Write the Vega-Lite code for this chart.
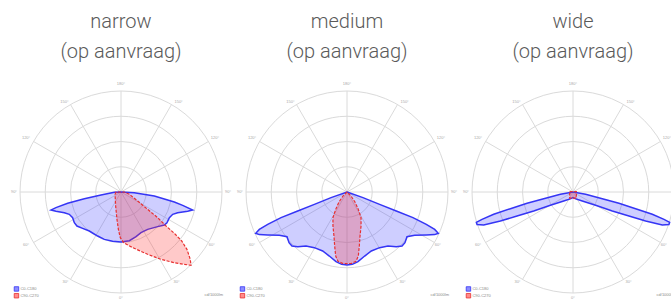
{
  "$schema": "https://vega.github.io/schema/vega-lite/v6.json",
  "padding": {"left": 10, "top": 11, "right": 0, "bottom": 0},
  "background": "white",
  "bounds": "flush",
  "config": {
    "view": {"stroke": null},
    "concat": {"spacing": 24},
    "title": {"font": "Roboto", "fontSize": 20, "fontWeight": 300, "color": "#5a5a5a", "lineHeight": 30, "offset": 20, "anchor": "middle"},
    "text": {"font": "Liberation Sans"}
  },
  "datasets": {
    "circles": [{"x": 0, "y": 0, "r": 0.25}, {"x": 0, "y": 0, "r": 0.5}, {"x": 0, "y": 0, "r": 0.75}, {"x": 0, "y": 0, "r": 1}],
    "spokes": [
      {"x": 0, "y": 1, "x2": 0, "y2": -1},
      {"x": -1, "y": 0, "x2": 1, "y2": 0},
      {"x": 0.5, "y": 0.866, "x2": -0.5, "y2": -0.866},
      {"x": -0.5, "y": 0.866, "x2": 0.5, "y2": -0.866},
      {"x": 0.866, "y": 0.5, "x2": -0.866, "y2": -0.5},
      {"x": -0.866, "y": 0.5, "x2": 0.866, "y2": -0.5}
    ],
    "degrees": [
      {"t": "180°", "x": 0, "y": 1.07},
      {"t": "150°", "x": -0.56, "y": 0.89},
      {"t": "150°", "x": 0.57, "y": 0.89},
      {"t": "120°", "x": -0.94, "y": 0.53},
      {"t": "120°", "x": 0.93, "y": 0.53},
      {"t": "90°", "x": -1.06, "y": 0},
      {"t": "90°", "x": 1.06, "y": 0},
      {"t": "60°", "x": -0.94, "y": -0.52},
      {"t": "60°", "x": 0.9, "y": -0.52},
      {"t": "30°", "x": -0.55, "y": -0.89},
      {"t": "30°", "x": 0.55, "y": -0.89},
      {"t": "0°", "x": 0, "y": -1.05}
    ],
    "legend": [
      {"s": "C0-C180", "x": -1.035, "y": -0.96},
      {"s": "C90-C270", "x": -1.035, "y": -1.027}
    ],
    "unit": [{"t": "cd/1000lm", "x": 1.01, "y": -1.02}],
    "curves": [
      {"p": "narrow", "s": "C0-C180", "i": 0, "x": 0, "y": 0},
      {"p": "narrow", "s": "C0-C180", "i": 1, "x": 0.132, "y": -0.007},
      {"p": "narrow", "s": "C0-C180", "i": 2, "x": 0.33, "y": -0.04},
      {"p": "narrow", "s": "C0-C180", "i": 3, "x": 0.528, "y": -0.099},
      {"p": "narrow", "s": "C0-C180", "i": 4, "x": 0.611, "y": -0.132},
      {"p": "narrow", "s": "C0-C180", "i": 5, "x": 0.71, "y": -0.178},
      {"p": "narrow", "s": "C0-C180", "i": 6, "x": 0.66, "y": -0.191},
      {"p": "narrow", "s": "C0-C180", "i": 7, "x": 0.561, "y": -0.205},
      {"p": "narrow", "s": "C0-C180", "i": 8, "x": 0.512, "y": -0.221},
      {"p": "narrow", "s": "C0-C180", "i": 9, "x": 0.479, "y": -0.254},
      {"p": "narrow", "s": "C0-C180", "i": 10, "x": 0.455, "y": -0.304},
      {"p": "narrow", "s": "C0-C180", "i": 11, "x": 0.429, "y": -0.327},
      {"p": "narrow", "s": "C0-C180", "i": 12, "x": 0.363, "y": -0.343},
      {"p": "narrow", "s": "C0-C180", "i": 13, "x": 0.264, "y": -0.37},
      {"p": "narrow", "s": "C0-C180", "i": 14, "x": 0.198, "y": -0.403},
      {"p": "narrow", "s": "C0-C180", "i": 15, "x": 0.149, "y": -0.442},
      {"p": "narrow", "s": "C0-C180", "i": 16, "x": 0.083, "y": -0.482},
      {"p": "narrow", "s": "C0-C180", "i": 17, "x": 0, "y": -0.495},
      {"p": "narrow", "s": "C0-C180", "i": 18, "x": -0.083, "y": -0.488},
      {"p": "narrow", "s": "C0-C180", "i": 19, "x": -0.165, "y": -0.469},
      {"p": "narrow", "s": "C0-C180", "i": 20, "x": -0.231, "y": -0.436},
      {"p": "narrow", "s": "C0-C180", "i": 21, "x": -0.314, "y": -0.386},
      {"p": "narrow", "s": "C0-C180", "i": 22, "x": -0.38, "y": -0.36},
      {"p": "narrow", "s": "C0-C180", "i": 23, "x": -0.436, "y": -0.337},
      {"p": "narrow", "s": "C0-C180", "i": 24, "x": -0.462, "y": -0.304},
      {"p": "narrow", "s": "C0-C180", "i": 25, "x": -0.479, "y": -0.254},
      {"p": "narrow", "s": "C0-C180", "i": 26, "x": -0.512, "y": -0.221},
      {"p": "narrow", "s": "C0-C180", "i": 27, "x": -0.561, "y": -0.205},
      {"p": "narrow", "s": "C0-C180", "i": 28, "x": -0.644, "y": -0.191},
      {"p": "narrow", "s": "C0-C180", "i": 29, "x": -0.693, "y": -0.178},
      {"p": "narrow", "s": "C0-C180", "i": 30, "x": -0.644, "y": -0.155},
      {"p": "narrow", "s": "C0-C180", "i": 31, "x": -0.528, "y": -0.112},
      {"p": "narrow", "s": "C0-C180", "i": 32, "x": -0.363, "y": -0.066},
      {"p": "narrow", "s": "C0-C180", "i": 33, "x": -0.198, "y": -0.03},
      {"p": "narrow", "s": "C0-C180", "i": 34, "x": -0.066, "y": -0.003},
      {"p": "narrow", "s": "C90-C270", "i": 0, "x": -0.05, "y": 0},
      {"p": "narrow", "s": "C90-C270", "i": 1, "x": -0.059, "y": -0.023},
      {"p": "narrow", "s": "C90-C270", "i": 2, "x": -0.053, "y": -0.139},
      {"p": "narrow", "s": "C90-C270", "i": 3, "x": -0.04, "y": -0.271},
      {"p": "narrow", "s": "C90-C270", "i": 4, "x": -0.026, "y": -0.37},
      {"p": "narrow", "s": "C90-C270", "i": 5, "x": -0.007, "y": -0.452},
      {"p": "narrow", "s": "C90-C270", "i": 6, "x": 0.026, "y": -0.502},
      {"p": "narrow", "s": "C90-C270", "i": 7, "x": 0.116, "y": -0.551},
      {"p": "narrow", "s": "C90-C270", "i": 8, "x": 0.264, "y": -0.617},
      {"p": "narrow", "s": "C90-C270", "i": 9, "x": 0.396, "y": -0.667},
      {"p": "narrow", "s": "C90-C270", "i": 10, "x": 0.528, "y": -0.7},
      {"p": "narrow", "s": "C90-C270", "i": 11, "x": 0.627, "y": -0.716},
      {"p": "narrow", "s": "C90-C270", "i": 12, "x": 0.693, "y": -0.726},
      {"p": "narrow", "s": "C90-C270", "i": 13, "x": 0.686, "y": -0.667},
      {"p": "narrow", "s": "C90-C270", "i": 14, "x": 0.653, "y": -0.568},
      {"p": "narrow", "s": "C90-C270", "i": 15, "x": 0.601, "y": -0.485},
      {"p": "narrow", "s": "C90-C270", "i": 16, "x": 0.528, "y": -0.409},
      {"p": "narrow", "s": "C90-C270", "i": 17, "x": 0.446, "y": -0.337},
      {"p": "narrow", "s": "C90-C270", "i": 18, "x": 0.363, "y": -0.254},
      {"p": "narrow", "s": "C90-C270", "i": 19, "x": 0.264, "y": -0.172},
      {"p": "narrow", "s": "C90-C270", "i": 20, "x": 0.165, "y": -0.089},
      {"p": "narrow", "s": "C90-C270", "i": 21, "x": 0.083, "y": -0.023},
      {"p": "narrow", "s": "C90-C270", "i": 22, "x": 0.033, "y": 0},
      {"p": "medium", "s": "C0-C180", "i": 0, "x": 0, "y": 0},
      {"p": "medium", "s": "C0-C180", "i": 1, "x": 0.158, "y": -0.056},
      {"p": "medium", "s": "C0-C180", "i": 2, "x": 0.323, "y": -0.122},
      {"p": "medium", "s": "C0-C180", "i": 3, "x": 0.488, "y": -0.188},
      {"p": "medium", "s": "C0-C180", "i": 4, "x": 0.653, "y": -0.254},
      {"p": "medium", "s": "C0-C180", "i": 5, "x": 0.785, "y": -0.32},
      {"p": "medium", "s": "C0-C180", "i": 6, "x": 0.868, "y": -0.37},
      {"p": "medium", "s": "C0-C180", "i": 7, "x": 0.904, "y": -0.409},
      {"p": "medium", "s": "C0-C180", "i": 8, "x": 0.868, "y": -0.422},
      {"p": "medium", "s": "C0-C180", "i": 9, "x": 0.785, "y": -0.426},
      {"p": "medium", "s": "C0-C180", "i": 10, "x": 0.67, "y": -0.429},
      {"p": "medium", "s": "C0-C180", "i": 11, "x": 0.594, "y": -0.442},
      {"p": "medium", "s": "C0-C180", "i": 12, "x": 0.574, "y": -0.502},
      {"p": "medium", "s": "C0-C180", "i": 13, "x": 0.545, "y": -0.535},
      {"p": "medium", "s": "C0-C180", "i": 14, "x": 0.488, "y": -0.541},
      {"p": "medium", "s": "C0-C180", "i": 15, "x": 0.406, "y": -0.535},
      {"p": "medium", "s": "C0-C180", "i": 16, "x": 0.323, "y": -0.551},
      {"p": "medium", "s": "C0-C180", "i": 17, "x": 0.241, "y": -0.584},
      {"p": "medium", "s": "C0-C180", "i": 18, "x": 0.175, "y": -0.634},
      {"p": "medium", "s": "C0-C180", "i": 19, "x": 0.109, "y": -0.69},
      {"p": "medium", "s": "C0-C180", "i": 20, "x": 0.053, "y": -0.716},
      {"p": "medium", "s": "C0-C180", "i": 21, "x": 0, "y": -0.723},
      {"p": "medium", "s": "C0-C180", "i": 22, "x": -0.053, "y": -0.716},
      {"p": "medium", "s": "C0-C180", "i": 23, "x": -0.109, "y": -0.69},
      {"p": "medium", "s": "C0-C180", "i": 24, "x": -0.175, "y": -0.634},
      {"p": "medium", "s": "C0-C180", "i": 25, "x": -0.241, "y": -0.584},
      {"p": "medium", "s": "C0-C180", "i": 26, "x": -0.323, "y": -0.551},
      {"p": "medium", "s": "C0-C180", "i": 27, "x": -0.406, "y": -0.535},
      {"p": "medium", "s": "C0-C180", "i": 28, "x": -0.488, "y": -0.541},
      {"p": "medium", "s": "C0-C180", "i": 29, "x": -0.545, "y": -0.535},
      {"p": "medium", "s": "C0-C180", "i": 30, "x": -0.574, "y": -0.502},
      {"p": "medium", "s": "C0-C180", "i": 31, "x": -0.594, "y": -0.442},
      {"p": "medium", "s": "C0-C180", "i": 32, "x": -0.67, "y": -0.429},
      {"p": "medium", "s": "C0-C180", "i": 33, "x": -0.785, "y": -0.426},
      {"p": "medium", "s": "C0-C180", "i": 34, "x": -0.868, "y": -0.422},
      {"p": "medium", "s": "C0-C180", "i": 35, "x": -0.904, "y": -0.409},
      {"p": "medium", "s": "C0-C180", "i": 36, "x": -0.868, "y": -0.37},
      {"p": "medium", "s": "C0-C180", "i": 37, "x": -0.785, "y": -0.32},
      {"p": "medium", "s": "C0-C180", "i": 38, "x": -0.653, "y": -0.254},
      {"p": "medium", "s": "C0-C180", "i": 39, "x": -0.488, "y": -0.188},
      {"p": "medium", "s": "C0-C180", "i": 40, "x": -0.323, "y": -0.122},
      {"p": "medium", "s": "C0-C180", "i": 41, "x": -0.158, "y": -0.056},
      {"p": "medium", "s": "C90-C270", "i": 0, "x": 0, "y": 0},
      {"p": "medium", "s": "C90-C270", "i": 1, "x": -0.04, "y": -0.04},
      {"p": "medium", "s": "C90-C270", "i": 2, "x": -0.079, "y": -0.099},
      {"p": "medium", "s": "C90-C270", "i": 3, "x": -0.112, "y": -0.172},
      {"p": "medium", "s": "C90-C270", "i": 4, "x": -0.139, "y": -0.254},
      {"p": "medium", "s": "C90-C270", "i": 5, "x": -0.139, "y": -0.337},
      {"p": "medium", "s": "C90-C270", "i": 6, "x": -0.129, "y": -0.436},
      {"p": "medium", "s": "C90-C270", "i": 7, "x": -0.122, "y": -0.535},
      {"p": "medium", "s": "C90-C270", "i": 8, "x": -0.112, "y": -0.634},
      {"p": "medium", "s": "C90-C270", "i": 9, "x": -0.089, "y": -0.686},
      {"p": "medium", "s": "C90-C270", "i": 10, "x": -0.046, "y": -0.706},
      {"p": "medium", "s": "C90-C270", "i": 11, "x": 0, "y": -0.71},
      {"p": "medium", "s": "C90-C270", "i": 12, "x": 0.046, "y": -0.706},
      {"p": "medium", "s": "C90-C270", "i": 13, "x": 0.089, "y": -0.686},
      {"p": "medium", "s": "C90-C270", "i": 14, "x": 0.112, "y": -0.634},
      {"p": "medium", "s": "C90-C270", "i": 15, "x": 0.122, "y": -0.535},
      {"p": "medium", "s": "C90-C270", "i": 16, "x": 0.129, "y": -0.436},
      {"p": "medium", "s": "C90-C270", "i": 17, "x": 0.139, "y": -0.337},
      {"p": "medium", "s": "C90-C270", "i": 18, "x": 0.139, "y": -0.254},
      {"p": "medium", "s": "C90-C270", "i": 19, "x": 0.112, "y": -0.172},
      {"p": "medium", "s": "C90-C270", "i": 20, "x": 0.079, "y": -0.099},
      {"p": "medium", "s": "C90-C270", "i": 21, "x": 0.04, "y": -0.04},
      {"p": "wide", "s": "C0-C180", "i": 0, "x": 0, "y": 0},
      {"p": "wide", "s": "C0-C180", "i": 1, "x": 0.125, "y": -0.023},
      {"p": "wide", "s": "C0-C180", "i": 2, "x": 0.29, "y": -0.066},
      {"p": "wide", "s": "C0-C180", "i": 3, "x": 0.455, "y": -0.112},
      {"p": "wide", "s": "C0-C180", "i": 4, "x": 0.62, "y": -0.165},
      {"p": "wide", "s": "C0-C180", "i": 5, "x": 0.785, "y": -0.221},
      {"p": "wide", "s": "C0-C180", "i": 6, "x": 0.901, "y": -0.271},
      {"p": "wide", "s": "C0-C180", "i": 7, "x": 0.957, "y": -0.3},
      {"p": "wide", "s": "C0-C180", "i": 8, "x": 0.95, "y": -0.323},
      {"p": "wide", "s": "C0-C180", "i": 9, "x": 0.884, "y": -0.327},
      {"p": "wide", "s": "C0-C180", "i": 10, "x": 0.719, "y": -0.287},
      {"p": "wide", "s": "C0-C180", "i": 11, "x": 0.554, "y": -0.238},
      {"p": "wide", "s": "C0-C180", "i": 12, "x": 0.389, "y": -0.188},
      {"p": "wide", "s": "C0-C180", "i": 13, "x": 0.224, "y": -0.132},
      {"p": "wide", "s": "C0-C180", "i": 14, "x": 0.092, "y": -0.089},
      {"p": "wide", "s": "C0-C180", "i": 15, "x": 0.02, "y": -0.066},
      {"p": "wide", "s": "C0-C180", "i": 16, "x": 0, "y": -0.056},
      {"p": "wide", "s": "C0-C180", "i": 17, "x": -0.02, "y": -0.066},
      {"p": "wide", "s": "C0-C180", "i": 18, "x": -0.092, "y": -0.089},
      {"p": "wide", "s": "C0-C180", "i": 19, "x": -0.224, "y": -0.132},
      {"p": "wide", "s": "C0-C180", "i": 20, "x": -0.389, "y": -0.188},
      {"p": "wide", "s": "C0-C180", "i": 21, "x": -0.554, "y": -0.238},
      {"p": "wide", "s": "C0-C180", "i": 22, "x": -0.719, "y": -0.287},
      {"p": "wide", "s": "C0-C180", "i": 23, "x": -0.884, "y": -0.327},
      {"p": "wide", "s": "C0-C180", "i": 24, "x": -0.95, "y": -0.323},
      {"p": "wide", "s": "C0-C180", "i": 25, "x": -0.957, "y": -0.3},
      {"p": "wide", "s": "C0-C180", "i": 26, "x": -0.901, "y": -0.271},
      {"p": "wide", "s": "C0-C180", "i": 27, "x": -0.785, "y": -0.221},
      {"p": "wide", "s": "C0-C180", "i": 28, "x": -0.62, "y": -0.165},
      {"p": "wide", "s": "C0-C180", "i": 29, "x": -0.455, "y": -0.112},
      {"p": "wide", "s": "C0-C180", "i": 30, "x": -0.29, "y": -0.066},
      {"p": "wide", "s": "C0-C180", "i": 31, "x": -0.125, "y": -0.023},
      {"p": "wide", "s": "C90-C270", "i": 0, "x": -0.033, "y": 0.005},
      {"p": "wide", "s": "C90-C270", "i": 1, "x": 0.033, "y": 0.005},
      {"p": "wide", "s": "C90-C270", "i": 2, "x": 0.033, "y": -0.06},
      {"p": "wide", "s": "C90-C270", "i": 3, "x": -0.033, "y": -0.06}
    ]
  },
  "hconcat": [
    {
      "width": 202, "height": 202,
      "title": {"text": ["narrow", "(op aanvraag)"]},
      "layer": [
        {"data": {"name": "circles"}, "mark": {"type": "point", "shape": "circle", "filled": false, "stroke": "#dadada", "strokeWidth": 1, "opacity": 1}, "encoding": {"x": {"field": "x", "type": "quantitative", "scale": {"domain": [-1, 1], "nice": false}, "axis": null}, "y": {"field": "y", "type": "quantitative", "scale": {"domain": [-1, 1], "nice": false}, "axis": null}, "size": {"field": "r", "type": "quantitative", "scale": {"type": "pow", "exponent": 2, "domain": [0, 1], "range": [0, 40804], "zero": true}, "legend": null}}},
        {"data": {"name": "spokes"}, "mark": {"type": "rule", "color": "#dadada", "strokeWidth": 1}, "encoding": {"x": {"field": "x", "type": "quantitative"}, "y": {"field": "y", "type": "quantitative"}, "x2": {"field": "x2"}, "y2": {"field": "y2"}}},
        {"data": {"name": "curves"}, "transform": [{"filter": "datum.p === 'narrow' && datum.s === 'C0-C180'"}], "mark": {"type": "line", "interpolate": "linear-closed", "stroke": "#3535f5", "strokeWidth": 1.5, "fill": "#3b3bff", "fillOpacity": 0.25}, "encoding": {"x": {"field": "x", "type": "quantitative"}, "y": {"field": "y", "type": "quantitative"}, "order": {"field": "i", "type": "quantitative"}}},
        {"data": {"name": "curves"}, "transform": [{"filter": "datum.p === 'narrow' && datum.s === 'C90-C270'"}], "mark": {"type": "line", "interpolate": "linear-closed", "stroke": "#e83030", "strokeWidth": 1.2, "strokeDash": [3, 1.5], "fill": "#ff3030", "fillOpacity": 0.26}, "encoding": {"x": {"field": "x", "type": "quantitative"}, "y": {"field": "y", "type": "quantitative"}, "order": {"field": "i", "type": "quantitative"}}},
        {"data": {"name": "degrees"}, "mark": {"type": "text", "fontSize": 4, "color": "#aaaaaa"}, "encoding": {"x": {"field": "x", "type": "quantitative"}, "y": {"field": "y", "type": "quantitative"}, "text": {"field": "t"}}},
        {"data": {"name": "legend"}, "mark": {"type": "point", "shape": "square", "filled": true, "size": 20, "opacity": 1, "strokeWidth": 0.8}, "encoding": {"x": {"field": "x", "type": "quantitative"}, "y": {"field": "y", "type": "quantitative"}, "fill": {"field": "s", "type": "nominal", "scale": {"domain": ["C0-C180", "C90-C270"], "range": ["#8c8cff", "#ff8c8c"]}, "legend": null}, "stroke": {"field": "s", "type": "nominal", "scale": {"domain": ["C0-C180", "C90-C270"], "range": ["#3535f5", "#e83030"]}, "legend": null}}},
        {"data": {"name": "legend"}, "mark": {"type": "text", "fontSize": 4, "color": "#888888", "align": "left", "dx": 4}, "encoding": {"x": {"field": "x", "type": "quantitative"}, "y": {"field": "y", "type": "quantitative"}, "text": {"field": "s"}}},
        {"data": {"name": "unit"}, "mark": {"type": "text", "fontSize": 4, "color": "#888888", "align": "right"}, "encoding": {"x": {"field": "x", "type": "quantitative"}, "y": {"field": "y", "type": "quantitative"}, "text": {"field": "t"}}}
      ]
    },
    {
      "width": 202, "height": 202,
      "title": {"text": ["medium", "(op aanvraag)"]},
      "layer": [
        {"data": {"name": "circles"}, "mark": {"type": "point", "shape": "circle", "filled": false, "stroke": "#dadada", "strokeWidth": 1, "opacity": 1}, "encoding": {"x": {"field": "x", "type": "quantitative", "scale": {"domain": [-1, 1], "nice": false}, "axis": null}, "y": {"field": "y", "type": "quantitative", "scale": {"domain": [-1, 1], "nice": false}, "axis": null}, "size": {"field": "r", "type": "quantitative", "scale": {"type": "pow", "exponent": 2, "domain": [0, 1], "range": [0, 40804], "zero": true}, "legend": null}}},
        {"data": {"name": "spokes"}, "mark": {"type": "rule", "color": "#dadada", "strokeWidth": 1}, "encoding": {"x": {"field": "x", "type": "quantitative"}, "y": {"field": "y", "type": "quantitative"}, "x2": {"field": "x2"}, "y2": {"field": "y2"}}},
        {"data": {"name": "curves"}, "transform": [{"filter": "datum.p === 'medium' && datum.s === 'C0-C180'"}], "mark": {"type": "line", "interpolate": "linear-closed", "stroke": "#3535f5", "strokeWidth": 1.5, "fill": "#3b3bff", "fillOpacity": 0.25}, "encoding": {"x": {"field": "x", "type": "quantitative"}, "y": {"field": "y", "type": "quantitative"}, "order": {"field": "i", "type": "quantitative"}}},
        {"data": {"name": "curves"}, "transform": [{"filter": "datum.p === 'medium' && datum.s === 'C90-C270'"}], "mark": {"type": "line", "interpolate": "linear-closed", "stroke": "#e83030", "strokeWidth": 1.2, "strokeDash": [3, 1.5], "fill": "#ff3030", "fillOpacity": 0.26}, "encoding": {"x": {"field": "x", "type": "quantitative"}, "y": {"field": "y", "type": "quantitative"}, "order": {"field": "i", "type": "quantitative"}}},
        {"data": {"name": "degrees"}, "mark": {"type": "text", "fontSize": 4, "color": "#aaaaaa"}, "encoding": {"x": {"field": "x", "type": "quantitative"}, "y": {"field": "y", "type": "quantitative"}, "text": {"field": "t"}}},
        {"data": {"name": "legend"}, "mark": {"type": "point", "shape": "square", "filled": true, "size": 20, "opacity": 1, "strokeWidth": 0.8}, "encoding": {"x": {"field": "x", "type": "quantitative"}, "y": {"field": "y", "type": "quantitative"}, "fill": {"field": "s", "type": "nominal", "scale": {"domain": ["C0-C180", "C90-C270"], "range": ["#8c8cff", "#ff8c8c"]}, "legend": null}, "stroke": {"field": "s", "type": "nominal", "scale": {"domain": ["C0-C180", "C90-C270"], "range": ["#3535f5", "#e83030"]}, "legend": null}}},
        {"data": {"name": "legend"}, "mark": {"type": "text", "fontSize": 4, "color": "#888888", "align": "left", "dx": 4}, "encoding": {"x": {"field": "x", "type": "quantitative"}, "y": {"field": "y", "type": "quantitative"}, "text": {"field": "s"}}},
        {"data": {"name": "unit"}, "mark": {"type": "text", "fontSize": 4, "color": "#888888", "align": "right"}, "encoding": {"x": {"field": "x", "type": "quantitative"}, "y": {"field": "y", "type": "quantitative"}, "text": {"field": "t"}}}
      ]
    },
    {
      "width": 202, "height": 202,
      "title": {"text": ["wide", "(op aanvraag)"]},
      "layer": [
        {"data": {"name": "circles"}, "mark": {"type": "point", "shape": "circle", "filled": false, "stroke": "#dadada", "strokeWidth": 1, "opacity": 1}, "encoding": {"x": {"field": "x", "type": "quantitative", "scale": {"domain": [-1, 1], "nice": false}, "axis": null}, "y": {"field": "y", "type": "quantitative", "scale": {"domain": [-1, 1], "nice": false}, "axis": null}, "size": {"field": "r", "type": "quantitative", "scale": {"type": "pow", "exponent": 2, "domain": [0, 1], "range": [0, 40804], "zero": true}, "legend": null}}},
        {"data": {"name": "spokes"}, "mark": {"type": "rule", "color": "#dadada", "strokeWidth": 1}, "encoding": {"x": {"field": "x", "type": "quantitative"}, "y": {"field": "y", "type": "quantitative"}, "x2": {"field": "x2"}, "y2": {"field": "y2"}}},
        {"data": {"name": "curves"}, "transform": [{"filter": "datum.p === 'wide' && datum.s === 'C0-C180'"}], "mark": {"type": "line", "interpolate": "linear-closed", "stroke": "#3535f5", "strokeWidth": 1.5, "fill": "#3b3bff", "fillOpacity": 0.25}, "encoding": {"x": {"field": "x", "type": "quantitative"}, "y": {"field": "y", "type": "quantitative"}, "order": {"field": "i", "type": "quantitative"}}},
        {"data": {"name": "curves"}, "transform": [{"filter": "datum.p === 'wide' && datum.s === 'C90-C270'"}], "mark": {"type": "line", "interpolate": "linear-closed", "stroke": "#e83030", "strokeWidth": 1.2, "strokeDash": [3, 1.5], "fill": "#ff3030", "fillOpacity": 0.26}, "encoding": {"x": {"field": "x", "type": "quantitative"}, "y": {"field": "y", "type": "quantitative"}, "order": {"field": "i", "type": "quantitative"}}},
        {"data": {"name": "degrees"}, "mark": {"type": "text", "fontSize": 4, "color": "#aaaaaa"}, "encoding": {"x": {"field": "x", "type": "quantitative"}, "y": {"field": "y", "type": "quantitative"}, "text": {"field": "t"}}},
        {"data": {"name": "legend"}, "mark": {"type": "point", "shape": "square", "filled": true, "size": 20, "opacity": 1, "strokeWidth": 0.8}, "encoding": {"x": {"field": "x", "type": "quantitative"}, "y": {"field": "y", "type": "quantitative"}, "fill": {"field": "s", "type": "nominal", "scale": {"domain": ["C0-C180", "C90-C270"], "range": ["#8c8cff", "#ff8c8c"]}, "legend": null}, "stroke": {"field": "s", "type": "nominal", "scale": {"domain": ["C0-C180", "C90-C270"], "range": ["#3535f5", "#e83030"]}, "legend": null}}},
        {"data": {"name": "legend"}, "mark": {"type": "text", "fontSize": 4, "color": "#888888", "align": "left", "dx": 4}, "encoding": {"x": {"field": "x", "type": "quantitative"}, "y": {"field": "y", "type": "quantitative"}, "text": {"field": "s"}}},
        {"data": {"name": "unit"}, "mark": {"type": "text", "fontSize": 4, "color": "#888888", "align": "right"}, "encoding": {"x": {"field": "x", "type": "quantitative"}, "y": {"field": "y", "type": "quantitative"}, "text": {"field": "t"}}}
      ]
    }
  ]
}
